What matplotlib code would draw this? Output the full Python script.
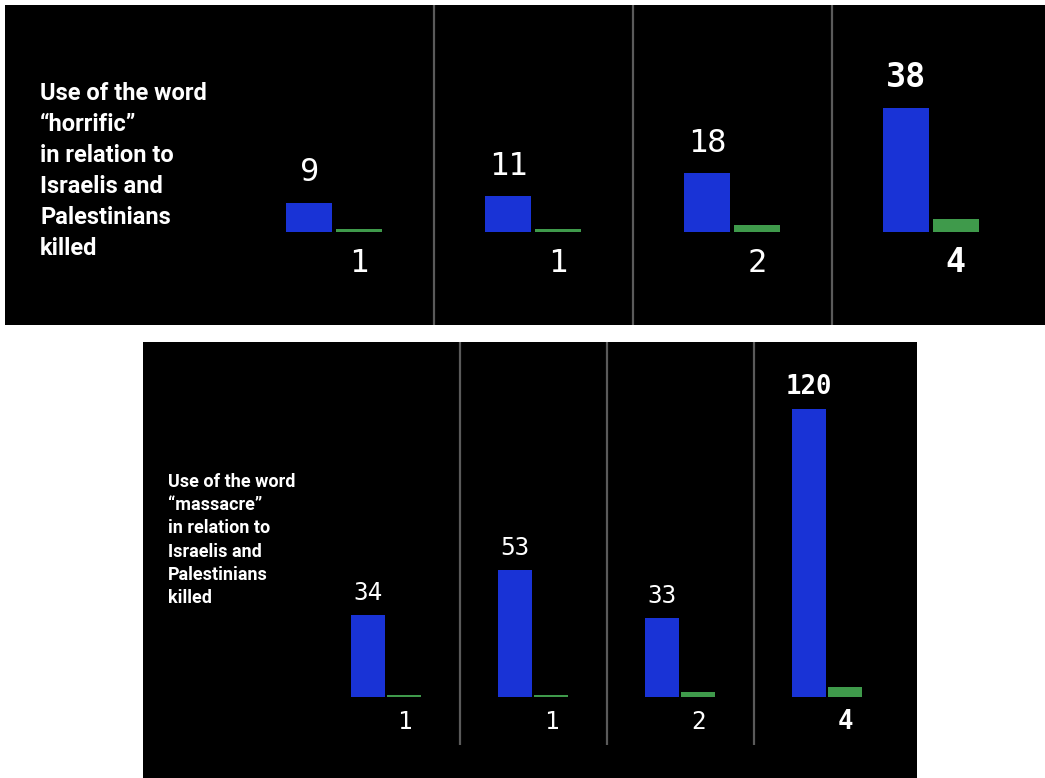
import numpy as np
import matplotlib
matplotlib.use("Agg")
import matplotlib.pyplot as plt

# four groups per panel, no axis labels shown
groups = np.arange(4)
horrific_israelis = [9, 11, 18, 38]
horrific_palestinians = [1, 1, 2, 4]
massacre_israelis = [34, 53, 33, 120]
massacre_palestinians = [1, 1, 2, 4]

title_horrific = "Use of the word\n\u201chorrific\u201d\nin relation to\nIsraelis and\nPalestinians\nkilled"
title_massacre = "Use of the word\n\u201cmassacre\u201d\nin relation to\nIsraelis and\nPalestinians\nkilled"

BLUE = "#1933d6"
GREEN = "#3f9a4b"
SEP = "#5a5a5a"
W, H = 1045, 778
TITLE_FONT = ["Roboto", "DejaVu Sans"]
NUM_FONT = ["DejaVu Sans Mono"]

fig = plt.figure(figsize=(W / 100, H / 100), dpi=100, facecolor="white")


def px_axes(x0, y0, x1, y1):
    return fig.add_axes([x0 / W, 1 - y1 / H, (x1 - x0) / W, (y1 - y0) / H])


def panel(ax, blue, green, xlim, ylim, sep_bottom, fs, up, down):
    ax.set_facecolor("black")
    ax.set_xlim(*xlim)
    ax.set_ylim(*ylim)
    for s in ax.spines.values():
        s.set_visible(False)
    ax.set_xticks([])
    ax.set_yticks([])

    w, gap = 0.23, 0.02
    ax.bar(groups - gap / 2 - w / 2, blue, width=w, color=BLUE)
    ax.bar(groups + gap / 2 + w / 2, green, width=w, color=GREEN)
    ax.vlines(groups[:-1] + 0.5, sep_bottom, ylim[1], color=SEP, lw=1.6)

    for i in groups:
        bold = i == groups[-1]
        wt = "bold" if bold else "normal"
        size = fs + 1 if bold else fs
        ax.annotate(str(blue[i]), (i - gap / 2 - w / 2, blue[i]), xytext=(0, up),
                    textcoords="offset pixels", ha="center", va="center",
                    color="white", fontsize=size, fontweight=wt, family=NUM_FONT)
        ax.annotate(str(green[i]), (i + gap / 2 + w / 2, 0), xytext=(0, -down),
                    textcoords="offset pixels", ha="center", va="center",
                    color="white", fontsize=size, fontweight=wt, family=NUM_FONT)


# top panel: "horrific"
ax1 = px_axes(5, 5, 1045, 325)
panel(ax1, horrific_israelis, horrific_palestinians,
      ((5 - 334) / 199, (1045 - 334) / 199), (-(325 - 232) / 3.27, (232 - 5) / 3.27),
      -(325 - 232) / 3.27, 23, 30, 31)
fig.text(40 / W, 1 - 171 / H, title_horrific, color="white", fontsize=17,
         fontweight="bold", family=TITLE_FONT, ha="left", va="center",
         linespacing=1.44)

# bottom panel: "massacre"
ax2 = px_axes(143, 342, 917, 778)
panel(ax2, massacre_israelis, massacre_palestinians,
      ((143 - 386) / 147, (917 - 386) / 147), (-(778 - 697) / 2.4, (697 - 342) / 2.4),
      -(745 - 697) / 2.4, 17.5, 22, 25)
fig.text(168 / W, 1 - 540 / H, title_massacre, color="white", fontsize=13,
         fontweight="bold", family=TITLE_FONT, ha="left", va="center",
         linespacing=1.36)

fig.savefig("out.png", dpi=100, facecolor="white")
